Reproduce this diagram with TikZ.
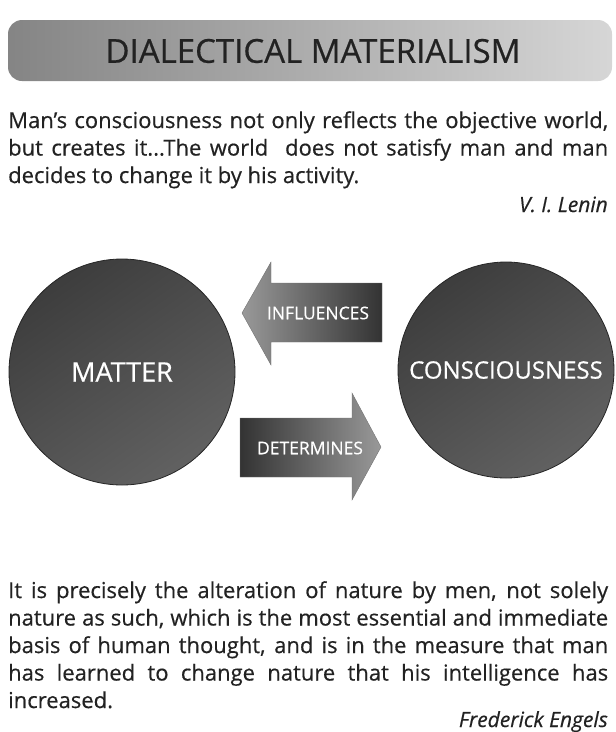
\documentclass[tikz,border=0pt]{standalone}
\usepackage{fontspec}
\setmainfont{Open Sans}[FakeBold=0.5]
\usetikzlibrary{positioning}

\definecolor{inkgray}{HTML}{222222}

\begin{document}
\begin{tikzpicture}[
    x=1pt, y=-1pt,
    quote/.style={text width=600pt, align=justify, inner sep=0pt,
                  text=inkgray, font=\fontsize{22}{27.5}\selectfont},
    author/.style={inner sep=0pt, text=inkgray,
                   font=\fontsize{21}{28}\selectfont\itshape},
    idea/.style={circle, draw=black!85, line width=0.8pt,
                 top color=black!76, bottom color=black!62, shading angle=35,
                 text=white, font=\fontsize{24}{28}\selectfont},
    blockarr/.style={draw=black!55, line width=0.4pt},
    arrlabel/.style={inner sep=0pt, text=white,
                     font=\fontsize{17.5}{20}\selectfont}
]
\useasboundingbox (0,0) rectangle (616,732);

% title bar
\shade[left color=black!48, right color=black!16, rounded corners=14pt]
    (8,20) rectangle (612,81);
\node[text=inkgray, font=\fontsize{33}{38}\selectfont] (title) at (313,51)
    {DIALECTICAL MATERIALISM};

% Lenin
\node[quote, anchor=north west] (lenin) at (8,111)
    {Man's consciousness not only reflects the objective world,\linebreak
     but creates it...The world\ \ does not satisfy man and man\linebreak
     decides to change it by his activity.};
\node[author, anchor=base east] (leninname) at (608,212) {V. I. Lenin};

% matter and consciousness
\node[idea, minimum size=226pt, font=\fontsize{27}{30}\selectfont] (matter)
    at (122,372) {MATTER};
\node[idea, minimum size=216pt] (consc) at (506,370) {CONSCIOUSNESS};

% influences (to the left)
\shade[blockarr, left color=black!40, right color=black!80]
    (242,313) -- (271,262) -- (271,283) -- (382,283) -- (382,342)
    -- (271,342) -- (271,365) -- cycle;
\node[arrlabel] (infl) at (318,313) {INFLUENCES};

% determines (to the right)
\shade[blockarr, left color=black!80, right color=black!40]
    (240,418) -- (352,418) -- (352,393) -- (381,447) -- (352,500)
    -- (352,477) -- (240,477) -- cycle;
\node[arrlabel] (determ) at (310,448) {DETERMINES};

% Engels
\node[quote, anchor=north west] (engels) at (8,581)
    {It is precisely the alteration of nature by men, not solely\linebreak
     nature as such, which is the most essential and immediate\linebreak
     basis of human thought, and is in the measure that man\linebreak
     has learned to change nature that his intelligence has\linebreak
     increased.};
\node[author, anchor=base east] (engelsname) at (608,727) {Frederick Engels};
\end{tikzpicture}
\end{document}
